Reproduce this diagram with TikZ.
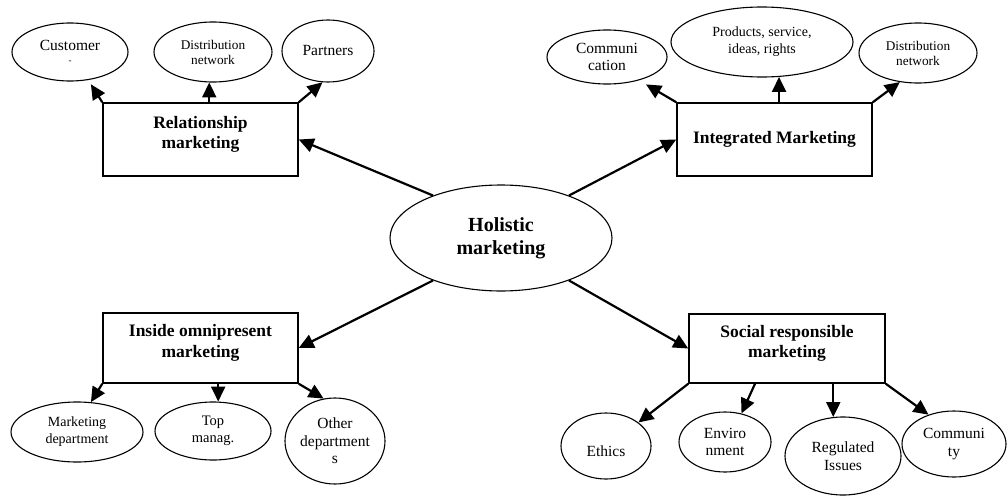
\documentclass[tikz,border=0pt]{standalone}
\usepackage{fontspec}
\setmainfont{Liberation Serif}
\usetikzlibrary{shapes.geometric,arrows.meta}

\begin{document}
\begin{tikzpicture}[x=1pt,y=-1pt,
  box/.style={draw,line width=1.5pt,minimum width=195pt,minimum height=72pt,inner sep=0pt,align=center,font=\fontsize{17.5}{20.5}\selectfont\bfseries},
  oval/.style={draw,ellipse,line width=1.1pt,inner sep=0pt,align=center,font=\fontsize{15.5}{17.5}\selectfont},
  arr/.style={line width=2.2pt,-{Triangle[length=15pt,width=14pt]}}]
\useasboundingbox (0,0) rectangle (1008,495);
%centre
\node [draw,ellipse,line width=1.1pt,minimum width=222pt,minimum height=106pt,inner sep=0pt,align=center,font=\fontsize{20}{23}\selectfont\bfseries] (holi) at (501,238) {Holistic\\marketing};
%the four boxes
\node [box,minimum height=73pt,text depth=14pt] (rel) at (200.5,139.5) {Relationship\\marketing};
\node [box,minimum height=73pt] (integ) at (774.5,139.5) {Integrated Marketing};
\node [box,minimum height=70pt,text depth=14pt] (ins) at (200.5,348) {Inside omnipresent\\marketing};
\node [box,minimum width=196pt,minimum height=69pt,text depth=14pt] (soc) at (787,348.5) {Social responsible\\marketing};
%top left ovals
\node [oval,minimum width=116pt,minimum height=58pt] (cust) at (70,52) {Customer\\[-4pt]{\fontsize{9}{9}\selectfont -}};
\node [oval,minimum width=118pt,minimum height=60pt,font=\fontsize{13.3}{15}\selectfont] (dista) at (213,52) {Distribution\\network};
\node [oval,minimum width=92pt,minimum height=62pt] (part) at (328,51) {Partners};
%top right ovals
\node [oval,minimum width=120pt,minimum height=54pt] (comm) at (607,57) {Communi\\cation};
\node [oval,minimum width=182pt,minimum height=70pt,font=\fontsize{14}{17}\selectfont] (prod) at (762,42) {Products, service,\\ideas, rights};
\node [oval,minimum width=118pt,minimum height=60pt,font=\fontsize{13.3}{15}\selectfont] (distb) at (918,53) {Distribution\\network};
%bottom left ovals
\node [oval,minimum width=132pt,minimum height=60pt,font=\fontsize{14}{17}\selectfont] (mkt) at (77,432) {Marketing\\department};
\node [oval,minimum width=116pt,minimum height=58pt,font=\fontsize{14.5}{17}\selectfont] (top) at (213,431) {Top\\manag.};
\node [oval,minimum width=100pt,minimum height=86pt] (oth) at (335,441) {Other\\department\\s};
%bottom right ovals
\node [oval,minimum width=90pt,minimum height=66pt,text height=22pt] (eth) at (606,446) {Ethics};
\node [oval,minimum width=92pt,minimum height=60pt] (env) at (725,442) {Enviro\\nment};
\node [oval,minimum width=116pt,minimum height=78pt] (reg) at (843,456) {Regulated\\Issues};
\node [oval,minimum width=104pt,minimum height=66pt] (com) at (954,444) {Communi\\ty};
%centre to boxes
\draw [arr] (holi.148) -- (rel.east);
\draw [arr] (holi.32) -- (integ.west);
\draw [arr] (holi.212) -- (ins.east);
\draw [arr] (holi.328) -- (soc.west);
%box to ovals
\draw [arr,shorten >=5pt] (rel.north west) -- (cust.303);
\draw [arr] (dista.263 |- rel.north) -- (dista.263);
\draw [arr] (rel.north east) -- (part.260);
\draw [arr,shorten >=8pt] (integ.north west) -- (comm.324);
\draw [arr] (prod.296 |- integ.north) -- (prod.296);
\draw [arr] (integ.north east) -- (distb.238);
\draw [arr] (ins.south west) -- (mkt.65);
\draw [arr] (top.80 |- ins.south) -- (top.80);
\draw [arr] (ins.south east) -- (oth.105);
\draw [arr] (soc.south west) -- (eth.36);
\draw [arr] ([xshift=-32pt]soc.south) -- (env.60);
\draw [arr] (reg.104 |- soc.south) -- (reg.104);
\draw [arr] (soc.south east) -- (com.131);
\end{tikzpicture}
\end{document}
